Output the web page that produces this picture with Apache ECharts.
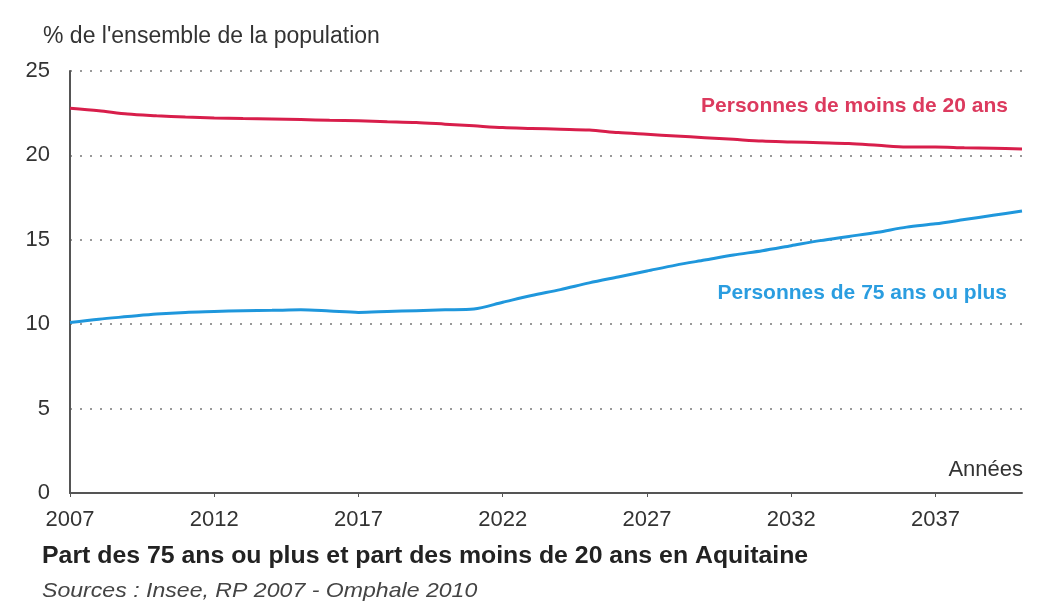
<!DOCTYPE html>
<html>
<head>
<meta charset="utf-8">
<script src="https://cdn.jsdelivr.net/npm/echarts@6/dist/echarts.min.js"></script>
<style>
  html, body { margin: 0; padding: 0; background: #fff; }
  #chart { width: 1057px; height: 601px; }
</style>
</head>
<body>
<div id="chart"></div>
<script>
// années 2007 -> 2040
var years = [];
for (var y = 2007; y <= 2040; y++) years.push(String(y));

// part des moins de 20 ans (%)
var moins20 = [22.8, 22.65, 22.45, 22.35, 22.27, 22.22, 22.18, 22.15, 22.12, 22.08,
  22.05, 22.0, 21.95, 21.85, 21.75, 21.65, 21.6, 21.55, 21.5, 21.35,
  21.25, 21.15, 21.05, 20.95, 20.85, 20.8, 20.75, 20.7, 20.6, 20.5,
  20.5, 20.45, 20.42, 20.38];

// part des 75 ans ou plus (%)
var plus75 = [10.1, 10.3, 10.45, 10.6, 10.7, 10.75, 10.8, 10.82, 10.85, 10.78,
  10.7, 10.75, 10.8, 10.85, 10.9, 11.3, 11.7, 12.05, 12.45, 12.8,
  13.15, 13.5, 13.8, 14.1, 14.35, 14.65, 14.95, 15.2, 15.45, 15.75,
  15.95, 16.2, 16.45, 16.7];

var font = '"Liberation Sans", Arial, Helvetica, sans-serif';
var rouge = '#d81e4b';
var bleu = '#1f97dc';

var chart = echarts.init(document.getElementById('chart'), null, { renderer: 'canvas' });

var option = {
  backgroundColor: '#ffffff',
  animation: false,
  grid: { left: 70, right: 35, top: 71, bottom: 108 },
  xAxis: {
    type: 'category',
    data: years,
    boundaryGap: false,
    axisLine: { lineStyle: { color: '#555', width: 2 } },
    axisTick: { show: true, interval: 4, length: 4, lineStyle: { color: '#555' } },
    axisLabel: { interval: 4, margin: 16, fontSize: 22, color: '#333', fontFamily: font },
    splitLine: { show: false }
  },
  yAxis: {
    type: 'value',
    min: 0,
    max: 25,
    interval: 5,
    axisLine: { show: true, lineStyle: { color: '#555', width: 2 } },
    axisTick: { show: false },
    axisLabel: { margin: 20, fontSize: 22, color: '#333', fontFamily: font },
    splitLine: { lineStyle: { color: '#999', type: [2, 8], width: 2 } }
  },
  series: [
    {
      name: 'Personnes de moins de 20 ans',
      type: 'line',
      data: moins20,
      smooth: 0.3,
      symbol: 'none',
      lineStyle: { color: rouge, width: 3 }
    },
    {
      name: 'Personnes de 75 ans ou plus',
      type: 'line',
      data: plus75,
      smooth: 0.3,
      symbol: 'none',
      lineStyle: { color: bleu, width: 3 }
    }
  ],
  graphic: [
    { type: 'text', x: 43, y: 37,
      style: { text: "% de l'ensemble de la population", font: '23px ' + font, fill: '#333', verticalAlign: 'middle' } },
    { type: 'text', x: 1023, y: 470,
      style: { text: 'Années', font: '22px ' + font, fill: '#333', align: 'right', verticalAlign: 'middle' } },
    { type: 'text', x: 1008, y: 106,
      style: { text: 'Personnes de moins de 20 ans', font: 'bold 21px ' + font, fill: '#dc3a5e', align: 'right', verticalAlign: 'middle' } },
    { type: 'text', x: 1007, y: 293,
      style: { text: 'Personnes de 75 ans ou plus', font: 'bold 21px ' + font, fill: '#2a9de0', align: 'right', verticalAlign: 'middle' } },
    { type: 'text', x: 42, y: 557, scaleX: 1.08,
      style: { text: 'Part des 75 ans ou plus et part des moins de 20 ans en Aquitaine', font: 'bold 23px ' + font, fill: '#222', verticalAlign: 'middle' } },
    { type: 'text', x: 42, y: 591, scaleX: 1.1,
      style: { text: 'Sources : Insee, RP 2007 - Omphale 2010', font: 'italic 21px ' + font, fill: '#444', verticalAlign: 'middle' } }
  ]
};

chart.setOption(option);
</script>
</body>
</html>
